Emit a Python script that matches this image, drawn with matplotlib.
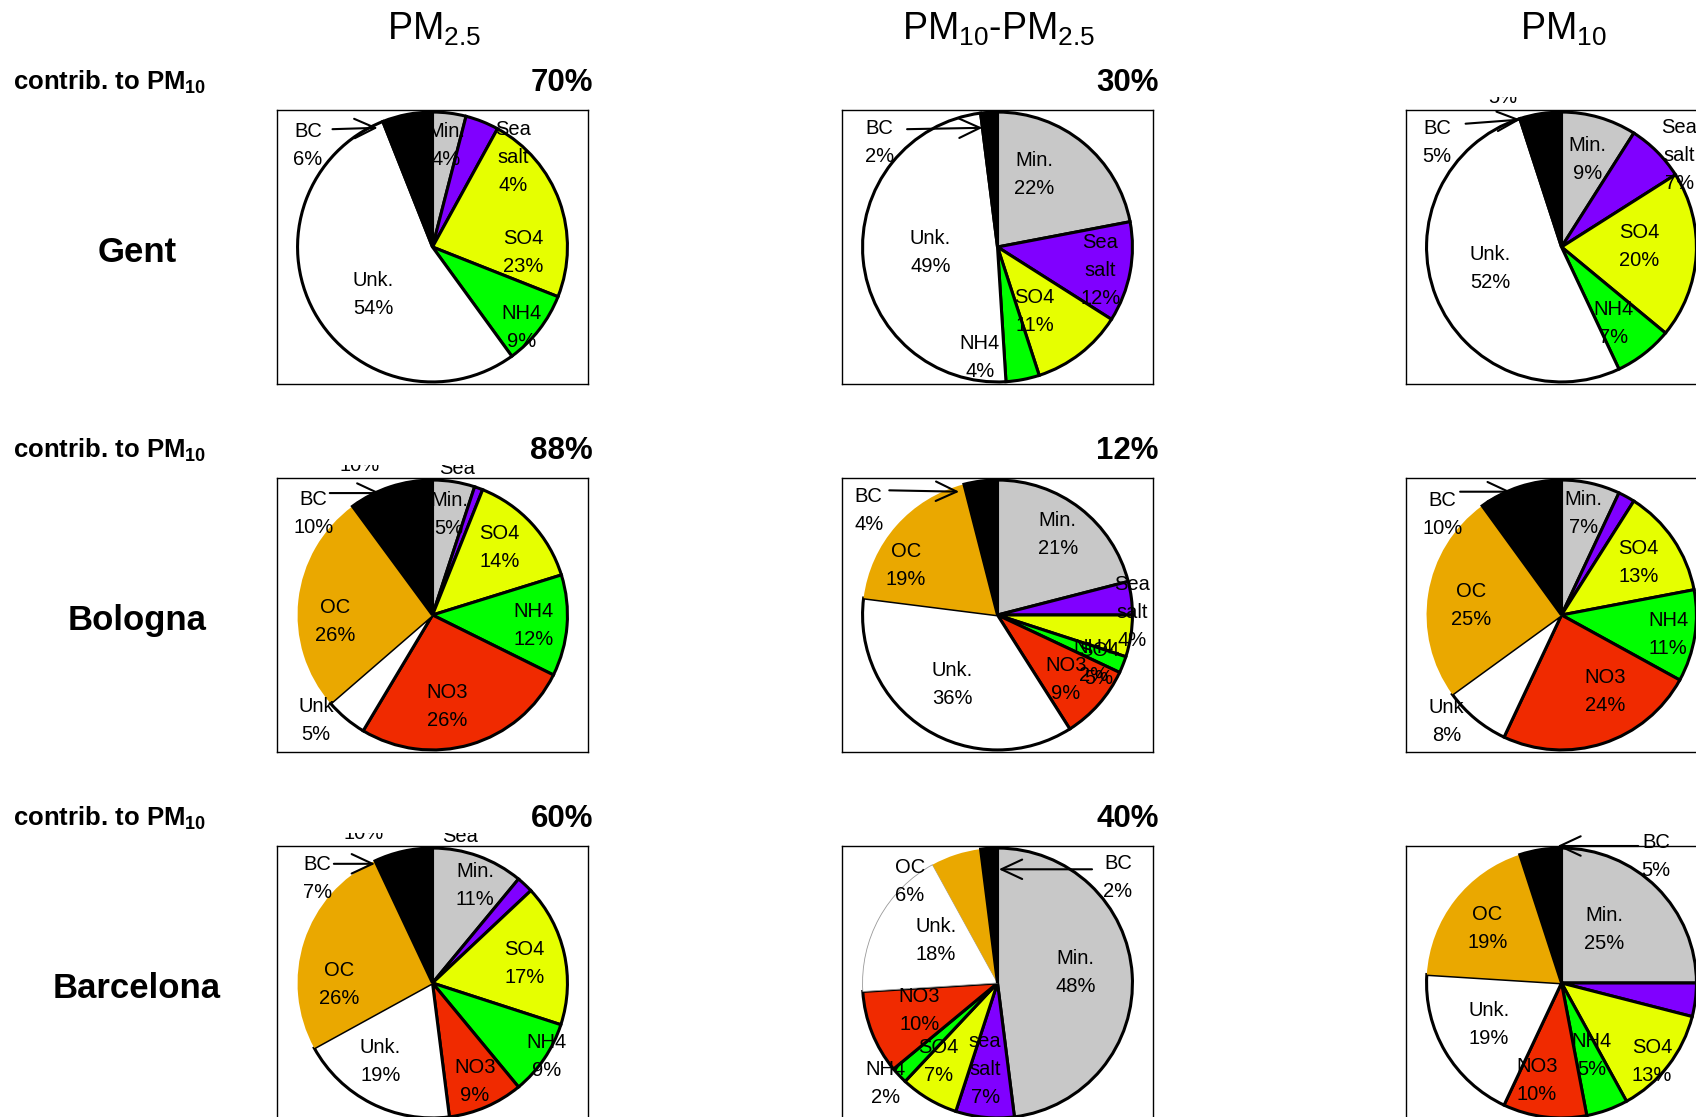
"""Chemical composition pies: PM2.5, coarse fraction and PM10 at three sites."""

import matplotlib
matplotlib.use('Agg')

import matplotlib.pyplot as plt
from matplotlib import font_manager
from matplotlib.transforms import Bbox, TransformedBbox

W, H, DPI = 1696, 1117, 100

# ---- data -----------------------------------------------------------------
SPECIES = ['Min.', 'Sea\nsalt', 'SO4', 'NH4', 'NO3', 'Unk.', 'OC', 'BC']
COLORS = ['#C8C8C8', '#8000FF', '#E6FF00', '#00FF00', '#F02A00',
          '#FFFFFF', '#EAA800', '#000000']

SITES = ['Gent', 'Bologna', 'Barcelona']
FRACTIONS = ['PM$_\\mathregular{2.5}$',
             'PM$_\\mathregular{10}$-PM$_\\mathregular{2.5}$',
             'PM$_\\mathregular{10}$']
CONTRIB_PM25 = [70, 88, 60]
CONTRIB_COARSE = [30, 12, 40]

#               Min Sea SO4 NH4 NO3 Unk  OC  BC
GENT_PM25      = [4,  4, 23,  9,  0, 54,  0,  6]
GENT_COARSE    = [22, 12, 11, 4,  0, 49,  0,  2]
GENT_PM10      = [9,  7, 20,  7,  0, 52,  0,  5]
BOLOGNA_PM25   = [5,  1, 14, 12, 26,  5, 26, 10]
BOLOGNA_COARSE = [21, 4,  5,  2,  9, 36, 19,  4]
BOLOGNA_PM10   = [7,  2, 13, 11, 24,  8, 25, 10]
BARCA_PM25     = [11, 2, 17,  9,  9, 19, 26,  7]
BARCA_COARSE   = [48, 7,  7,  2, 10, 18,  6,  2]
BARCA_PM10     = [25, 4, 13,  5, 10, 19, 19,  5]

VALUES = {
    (0, 0): GENT_PM25, (0, 1): GENT_COARSE, (0, 2): GENT_PM10,
    (1, 0): BOLOGNA_PM25, (1, 1): BOLOGNA_COARSE, (1, 2): BOLOGNA_PM10,
    (2, 0): BARCA_PM25, (2, 1): BARCA_COARSE, (2, 2): BARCA_PM10,
}

# ---- layout (pixels from top-left) -----------------------------------------
BOX_LEFT = [277, 842, 1406]
BOX_TOP = [110, 478, 846]
BOX_W, BOX_H = 311, 274
TITLE_X = [434, 999, 1563]

# label centres in pie-radius units, one per species (None = no label)
LABEL_XY = {
    (0, 0): [(0.10, 0.74), (0.59, 0.65), (0.66, -0.04), (0.65, -0.59), None,
             (-0.43, -0.35), None, (-0.91, 0.74)],
    (0, 1): [(0.27, 0.53), (0.75, -0.17), (0.27, -0.47), (-0.13, -0.81), None,
             (-0.49, -0.04), None, (-0.86, 0.76)],
    (0, 2): [(0.19, 0.64), (0.86, 0.67), (0.57, 0.0), (0.38, -0.56), None,
             (-0.52, -0.16), None, (-0.91, 0.76)],
    (1, 0): [(0.12, 0.73), None, (0.49, 0.49), (0.74, -0.08), (0.11, -0.67),
             (-0.85, -0.77), (-0.71, -0.05), (-0.87, 0.74)],
    (1, 1): [(0.44, 0.59), (0.98, 0.02), (0.74, -0.36), (0.70, -0.34),
             (0.50, -0.47), (-0.33, -0.51), (-0.67, 0.36), (-0.94, 0.76)],
    (1, 2): [(0.16, 0.74), None, (0.56, 0.38), (0.78, -0.14), (0.32, -0.56),
             (-0.84, -0.78), (-0.66, 0.07), (-0.87, 0.73)],
    (2, 0): [(0.31, 0.71), None, (0.67, 0.14), (0.83, -0.54), (0.31, -0.72),
             (-0.38, -0.57), (-0.68, -0.01), (-0.84, 0.76)],
    (2, 1): [(0.57, 0.08), (-0.09, -0.63), (-0.43, -0.57), (-0.82, -0.73),
             (-0.57, -0.20), (-0.45, 0.31), (-0.64, 0.74), (0.88, 0.77)],
    (2, 2): [(0.31, 0.39), None, (0.66, -0.57), (0.22, -0.53),
             (-0.18, -0.71), (-0.53, -0.30), (-0.54, 0.40), (0.69, 0.92)],
}
NAME_OVERRIDE = {
    (1, 0): {5: 'Unk'}, (1, 2): {5: 'Unk'}, (2, 1): {1: 'sea\nsalt'},
}
# BC leader arrows: (start, end) in radius units
BC_ARROW = {
    (0, 0): ((-0.73, 0.86), (-0.40, 0.87)),
    (0, 1): ((-0.66, 0.86), (-0.11, 0.87)),
    (0, 2): ((-0.70, 0.90), (-0.30, 0.93)),
    (1, 0): ((-0.75, 0.89), (-0.38, 0.89)),
    (1, 1): ((-0.79, 0.91), (-0.28, 0.90)),
    (1, 2): ((-0.74, 0.90), (-0.37, 0.90)),
    (2, 0): ((-0.72, 0.87), (-0.42, 0.87)),
    (2, 1): ((0.69, 0.83), (0.01, 0.83)),
    (2, 2): ((0.56, 1.0), (-0.03, 1.0)),
}
# bits of labels that peek out just above some boxes
GHOSTS = {
    (0, 2): [('5%', -0.43, 1.05)],
    (1, 0): [('10%', -0.53, 1.05), ('Sea', 0.18, 1.03)],
    (2, 0): [('10%', -0.50, 1.05), ('Sea', 0.20, 1.03)],
}
THIN_UNK = {(2, 1)}

names = {f.name for f in font_manager.fontManager.ttflist}
plt.rcParams['font.family'] = 'Liberation Sans' if 'Liberation Sans' in names else 'DejaVu Sans'

LABEL_FS = 14.5
XR = BOX_W / BOX_H


def fx(x):
    return x / W


def fy(y):
    return 1 - y / H


def draw_cell(fig, r, c):
    ax = fig.add_axes([fx(BOX_LEFT[c]), fy(BOX_TOP[r] + BOX_H),
                       BOX_W / W, BOX_H / H])
    vals = VALUES[(r, c)]
    idx = [i for i, v in enumerate(vals) if v > 0]
    wedges, _ = ax.pie([vals[i] for i in idx], colors=[COLORS[i] for i in idx],
                       startangle=90, counterclock=False, radius=0.985,
                       frame=True,
                       wedgeprops=dict(edgecolor='black', linewidth=2.2))
    for w, i in zip(wedges, idx):
        if SPECIES[i] == 'OC':
            w.set_linewidth(0)
        if SPECIES[i] == 'Unk.' and (r, c) in THIN_UNK:
            w.set_edgecolor('#999999')
            w.set_linewidth(0.6)
    ax.set_aspect('auto')
    ax.set_xlim(-XR, XR)
    ax.set_ylim(-1, 1)
    ax.set_xticks([])
    ax.set_yticks([])
    for sp in ax.spines.values():
        sp.set_linewidth(1.0)
        sp.set_color('black')

    over = NAME_OVERRIDE.get((r, c), {})
    for i, pos in enumerate(LABEL_XY[(r, c)]):
        if pos is None or vals[i] == 0:
            continue
        name = over.get(i, SPECIES[i])
        ax.text(pos[0], pos[1], f'{name}\n{vals[i]}%', ha='center', va='center',
                fontsize=LABEL_FS, linespacing=1.6, zorder=5)

    start, end = BC_ARROW[(r, c)]
    ax.annotate('', xy=end, xytext=start,
                arrowprops=dict(arrowstyle='->,head_length=1.5,head_width=0.7',
                                color='black', lw=1.5, shrinkA=0, shrinkB=0,
                                mutation_scale=10),
                zorder=6, annotation_clip=False)

    clip = TransformedBbox(Bbox([[-3, 1.0], [3, 1.095]]), ax.transData)
    for s, gx, gy in GHOSTS.get((r, c), []):
        t = ax.text(gx, gy, s, ha='center', va='baseline', fontsize=LABEL_FS,
                    clip_on=True)
        t.set_clip_path(None)
        t.set_clip_box(clip)


def main():
    fig = plt.figure(figsize=(W / DPI, H / DPI), dpi=DPI, facecolor='white')

    for c, title in enumerate(FRACTIONS):
        fig.text(fx(TITLE_X[c]), fy(40), title, ha='center', va='baseline',
                 fontsize=27)

    for r, site in enumerate(SITES):
        dy = r * 368
        fig.text(fx(137), fy(262 + dy), site, ha='center', va='baseline',
                 fontsize=25, fontweight='bold')
        fig.text(fx(13), fy(89 + dy), 'contrib. to PM$_\\mathregular{10}$',
                 ha='left', va='baseline', fontsize=18.5, fontweight='bold')
        fig.text(fx(BOX_LEFT[0] + BOX_W + 5), fy(91 + dy), f'{CONTRIB_PM25[r]}%',
                 ha='right', va='baseline', fontsize=22.5, fontweight='bold')
        fig.text(fx(BOX_LEFT[1] + BOX_W + 6), fy(91 + dy), f'{CONTRIB_COARSE[r]}%',
                 ha='right', va='baseline', fontsize=22.5, fontweight='bold')
        for c in range(3):
            draw_cell(fig, r, c)

    fig.savefig('out.png', dpi=DPI, facecolor='white')
    plt.close(fig)


if __name__ == '__main__':
    main()
